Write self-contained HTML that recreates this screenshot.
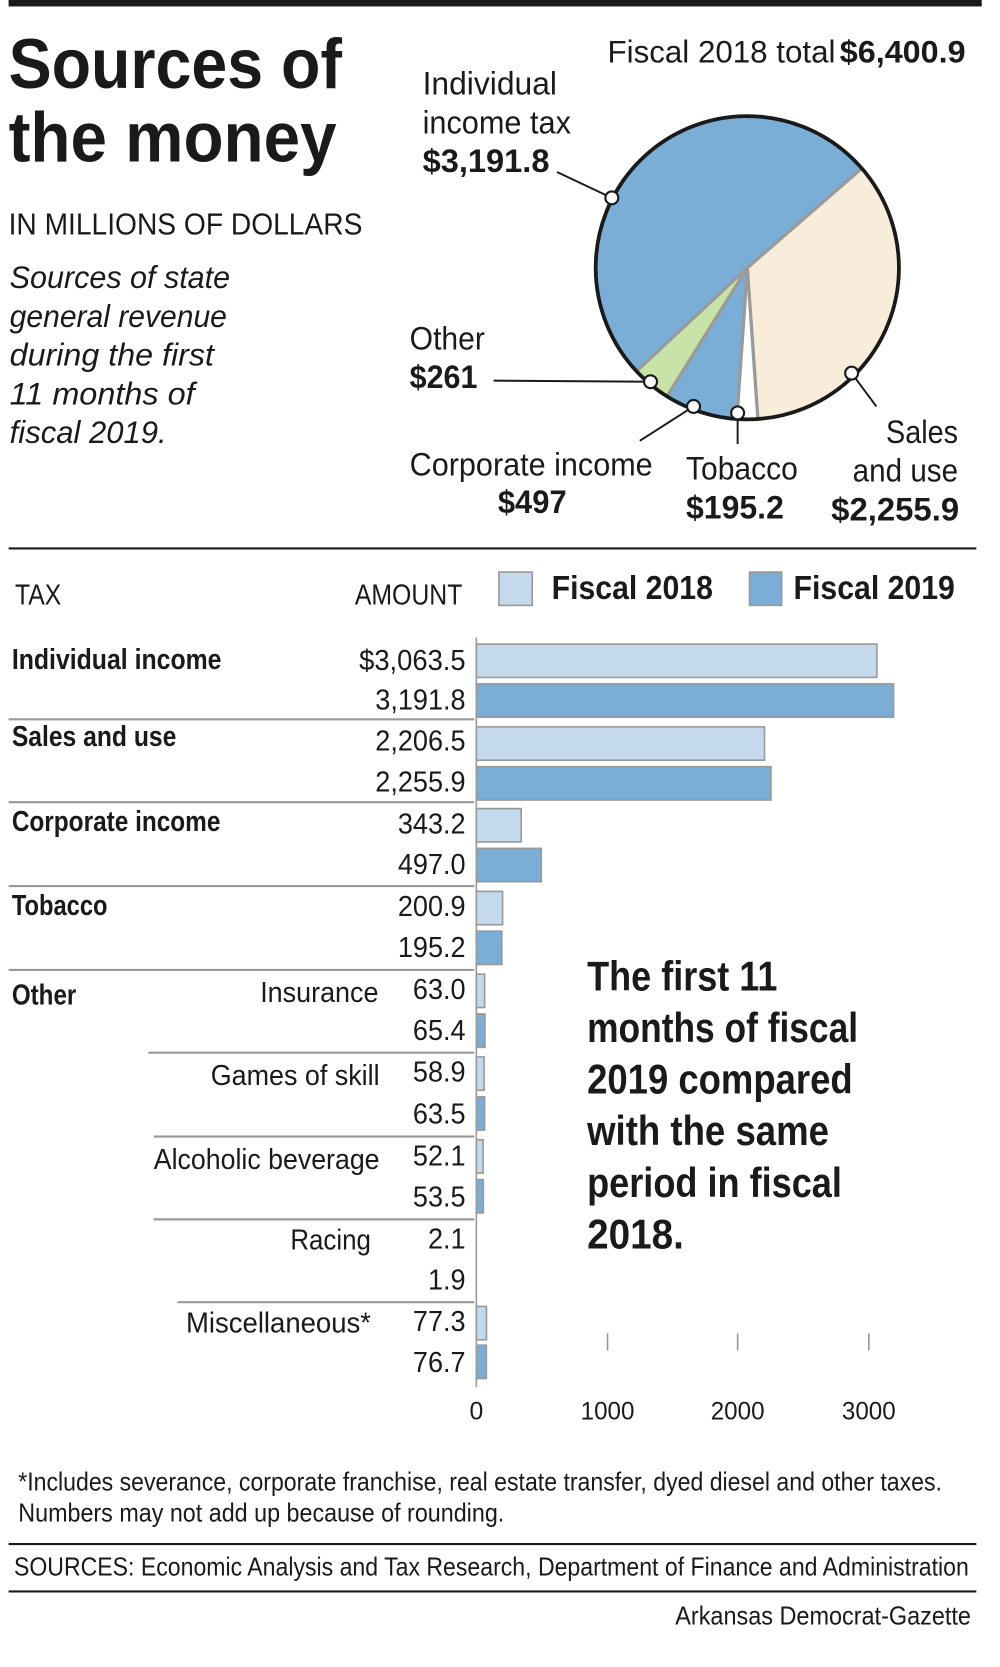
<!DOCTYPE html>
<html><head><meta charset="utf-8"><style>
html,body{margin:0;padding:0;background:#fff}
svg{display:block}
text{font-family:"Liberation Sans",sans-serif;fill:#1a1a1a}
.b{font-weight:bold}
</style></head><body>
<svg width="1000" height="1667" viewBox="0 0 930 1550.3" preserveAspectRatio="none" xmlns="http://www.w3.org/2000/svg">
<rect x="8" y="0" width="905" height="6" fill="#1a1a1a"/>
<text x="8" y="82" class="b" font-size="66" textLength="310" lengthAdjust="spacingAndGlyphs">Sources of</text>
<text x="8" y="150" class="b" font-size="66" textLength="305" lengthAdjust="spacingAndGlyphs">the money</text>
<text x="8" y="218" font-size="28" textLength="329" lengthAdjust="spacingAndGlyphs">IN MILLIONS OF DOLLARS</text>
<g font-size="29" font-style="italic">
<text x="9" y="268" textLength="205" lengthAdjust="spacingAndGlyphs">Sources of state</text>
<text x="9" y="304" textLength="202" lengthAdjust="spacingAndGlyphs">general revenue</text>
<text x="9" y="340" textLength="190" lengthAdjust="spacingAndGlyphs">during the first</text>
<text x="9" y="376" textLength="172" lengthAdjust="spacingAndGlyphs">11 months of</text>
<text x="9" y="412" textLength="146" lengthAdjust="spacingAndGlyphs">fiscal 2019.</text>
</g>
<text x="565" y="58" font-size="29" textLength="212" lengthAdjust="spacingAndGlyphs">Fiscal 2018 total</text>
<text x="781" y="58" font-size="29" class="b" textLength="117" lengthAdjust="spacingAndGlyphs">$6,400.9</text>
<!-- pie -->
<g stroke="#9a9a9a" stroke-width="3">
<path d="M695 249 L801.4 156.5 A141 141 0 0 1 704.8 389.7 Z" fill="#f8ecda"/>
<path d="M695 249 L704.8 389.7 A141 141 0 0 1 685.2 389.7 Z" fill="#ffffff"/>
<path d="M695 249 L685.2 389.7 A141 141 0 0 1 620.3 368.6 Z" fill="#7aaed6"/>
<path d="M695 249 L620.3 368.6 A141 141 0 0 1 591.9 345.2 Z" fill="#c8e3a8"/>
<path d="M695 249 L591.9 345.2 A141 141 0 1 1 801.4 156.5 Z" fill="#7aaed6"/>
</g>
<circle cx="695" cy="249" r="141" fill="none" stroke="#1a1a1a" stroke-width="3.5"/>
<g stroke="#1a1a1a" stroke-width="1.8" fill="none">
<line x1="518" y1="160" x2="569" y2="184"/>
<line x1="459" y1="354" x2="605" y2="355"/>
<line x1="595" y1="410" x2="645" y2="378"/>
<line x1="686" y1="384" x2="686" y2="413"/>
<line x1="792" y1="347" x2="815" y2="378"/>
</g>
<g fill="#fff" stroke="#1a1a1a" stroke-width="2">
<circle cx="569" cy="184" r="6"/><circle cx="605" cy="355" r="6"/><circle cx="645" cy="378" r="6"/><circle cx="686" cy="384" r="6"/><circle cx="792" cy="347" r="6"/>
</g>
<g font-size="30">
<text x="393" y="88" textLength="125" lengthAdjust="spacingAndGlyphs">Individual</text>
<text x="393" y="124" textLength="138" lengthAdjust="spacingAndGlyphs">income tax</text>
<text x="393" y="160" class="b" textLength="118" lengthAdjust="spacingAndGlyphs">$3,191.8</text>
<text x="381" y="325" textLength="70" lengthAdjust="spacingAndGlyphs">Other</text>
<text x="381" y="361" class="b" textLength="63" lengthAdjust="spacingAndGlyphs">$261</text>
<text x="381" y="442" textLength="226" lengthAdjust="spacingAndGlyphs">Corporate income</text>
<text x="463" y="477" class="b" textLength="64" lengthAdjust="spacingAndGlyphs">$497</text>
<text x="638" y="446" textLength="104" lengthAdjust="spacingAndGlyphs">Tobacco</text>
<text x="638" y="482" class="b" textLength="91" lengthAdjust="spacingAndGlyphs">$195.2</text>
<text x="824" y="412" textLength="67" lengthAdjust="spacingAndGlyphs">Sales</text>
<text x="793" y="448" textLength="98" lengthAdjust="spacingAndGlyphs">and use</text>
<text x="773" y="484" class="b" textLength="119" lengthAdjust="spacingAndGlyphs">$2,255.9</text>
</g>
<line x1="8" y1="510" x2="908" y2="510" stroke="#1a1a1a" stroke-width="2"/>
<!-- bar header -->
<text x="14" y="562" font-size="27" textLength="43" lengthAdjust="spacingAndGlyphs">TAX</text>
<text x="330" y="562" font-size="27" textLength="100" lengthAdjust="spacingAndGlyphs">AMOUNT</text>
<rect x="464" y="532" width="31" height="31" fill="#c5d9ec" stroke="#999" stroke-width="1.5"/>
<text x="513" y="557" font-size="31" class="b" textLength="150" lengthAdjust="spacingAndGlyphs">Fiscal 2018</text>
<rect x="697" y="532" width="30" height="31" fill="#7aaed6" stroke="#999" stroke-width="1.5"/>
<text x="738" y="557" font-size="31" class="b" textLength="150" lengthAdjust="spacingAndGlyphs">Fiscal 2019</text>
<!-- separators -->
<g stroke="#999" stroke-width="2">
<line x1="8" y1="669" x2="441" y2="669"/>
<line x1="8" y1="746" x2="441" y2="746"/>
<line x1="8" y1="824" x2="441" y2="824"/>
<line x1="8" y1="902" x2="441" y2="902"/>
<line x1="138" y1="979" x2="441" y2="979"/>
<line x1="143" y1="1057" x2="441" y2="1057"/>
<line x1="143" y1="1134" x2="441" y2="1134"/>
<line x1="165" y1="1211" x2="441" y2="1211"/>
<line x1="443" y1="593" x2="443" y2="1290" stroke-width="1.5"/>
<line x1="565" y1="1240" x2="565" y2="1256" stroke-width="1.5"/>
<line x1="686" y1="1240" x2="686" y2="1256" stroke-width="1.5"/>
<line x1="808" y1="1240" x2="808" y2="1256" stroke-width="1.5"/>
</g>
<!-- bars -->
<g stroke="#999" stroke-width="1.5">
<rect x="443" y="599" width="372.5" height="31" fill="#c5d9ec"/>
<rect x="443" y="636" width="388" height="31" fill="#7aaed6"/>
<rect x="443" y="676" width="268" height="31" fill="#c5d9ec"/>
<rect x="443" y="713" width="274" height="31" fill="#7aaed6"/>
<rect x="443" y="752" width="41.7" height="31" fill="#c5d9ec"/>
<rect x="443" y="789" width="60.4" height="31" fill="#7aaed6"/>
<rect x="443" y="829" width="24.4" height="31" fill="#c5d9ec"/>
<rect x="443" y="866" width="23.7" height="31" fill="#7aaed6"/>
<rect x="443" y="906" width="7.7" height="31" fill="#c5d9ec"/>
<rect x="443" y="943" width="8" height="31" fill="#7aaed6"/>
<rect x="443" y="983" width="7.2" height="31" fill="#c5d9ec"/>
<rect x="443" y="1020" width="7.7" height="31" fill="#7aaed6"/>
<rect x="443" y="1060" width="6.3" height="31" fill="#c5d9ec"/>
<rect x="443" y="1097" width="6.5" height="31" fill="#7aaed6"/>
<rect x="443" y="1215" width="9.4" height="31" fill="#c5d9ec"/>
<rect x="443" y="1251" width="9.3" height="31" fill="#7aaed6"/>
</g>
<!-- group labels -->
<g font-size="27" class="b">
<text x="11" y="622" class="b" textLength="195" lengthAdjust="spacingAndGlyphs">Individual income</text>
<text x="11" y="694" class="b" textLength="153" lengthAdjust="spacingAndGlyphs">Sales and use</text>
<text x="11" y="773" class="b" textLength="194" lengthAdjust="spacingAndGlyphs">Corporate income</text>
<text x="11" y="851" class="b" textLength="89" lengthAdjust="spacingAndGlyphs">Tobacco</text>
<text x="11" y="934" class="b" textLength="60" lengthAdjust="spacingAndGlyphs">Other</text>
</g>
<g font-size="27" text-anchor="end">
<text x="352" y="932" textLength="110" lengthAdjust="spacingAndGlyphs">Insurance</text>
<text x="353" y="1009" textLength="157" lengthAdjust="spacingAndGlyphs">Games of skill</text>
<text x="353" y="1087" textLength="210" lengthAdjust="spacingAndGlyphs">Alcoholic beverage</text>
<text x="345" y="1162" textLength="75" lengthAdjust="spacingAndGlyphs">Racing</text>
<text x="345" y="1239" textLength="172" lengthAdjust="spacingAndGlyphs">Miscellaneous*</text>
</g>
<g font-size="27" text-anchor="end">
<text x="433" y="623" textLength="99" lengthAdjust="spacingAndGlyphs">$3,063.5</text>
<text x="433" y="660" textLength="84" lengthAdjust="spacingAndGlyphs">3,191.8</text>
<text x="433" y="698" textLength="84" lengthAdjust="spacingAndGlyphs">2,206.5</text>
<text x="433" y="736" textLength="84" lengthAdjust="spacingAndGlyphs">2,255.9</text>
<text x="433" y="775" textLength="63" lengthAdjust="spacingAndGlyphs">343.2</text>
<text x="433" y="813" textLength="63" lengthAdjust="spacingAndGlyphs">497.0</text>
<text x="433" y="852" textLength="63" lengthAdjust="spacingAndGlyphs">200.9</text>
<text x="433" y="890" textLength="63" lengthAdjust="spacingAndGlyphs">195.2</text>
<text x="433" y="929" textLength="49" lengthAdjust="spacingAndGlyphs">63.0</text>
<text x="433" y="967" textLength="49" lengthAdjust="spacingAndGlyphs">65.4</text>
<text x="433" y="1006" textLength="49" lengthAdjust="spacingAndGlyphs">58.9</text>
<text x="433" y="1045" textLength="49" lengthAdjust="spacingAndGlyphs">63.5</text>
<text x="433" y="1084" textLength="49" lengthAdjust="spacingAndGlyphs">52.1</text>
<text x="433" y="1122" textLength="49" lengthAdjust="spacingAndGlyphs">53.5</text>
<text x="433" y="1161" textLength="35" lengthAdjust="spacingAndGlyphs">2.1</text>
<text x="433" y="1199" textLength="35" lengthAdjust="spacingAndGlyphs">1.9</text>
<text x="433" y="1238" textLength="49" lengthAdjust="spacingAndGlyphs">77.3</text>
<text x="433" y="1276" textLength="49" lengthAdjust="spacingAndGlyphs">76.7</text>
</g>
<g font-size="23" text-anchor="middle">
<text x="443" y="1320">0</text>
<text x="565" y="1320" textLength="50" lengthAdjust="spacingAndGlyphs">1000</text>
<text x="686" y="1320" textLength="50" lengthAdjust="spacingAndGlyphs">2000</text>
<text x="808" y="1320" textLength="50" lengthAdjust="spacingAndGlyphs">3000</text>
</g>
<g font-size="39" class="b">
<text x="546" y="921" class="b" textLength="177" lengthAdjust="spacingAndGlyphs">The first 11</text>
<text x="546" y="969" class="b" textLength="252" lengthAdjust="spacingAndGlyphs">months of fiscal</text>
<text x="546" y="1017" class="b" textLength="247" lengthAdjust="spacingAndGlyphs">2019 compared</text>
<text x="546" y="1065" class="b" textLength="225" lengthAdjust="spacingAndGlyphs">with the same</text>
<text x="546" y="1113" class="b" textLength="237" lengthAdjust="spacingAndGlyphs">period in fiscal</text>
<text x="546" y="1161" class="b" textLength="90" lengthAdjust="spacingAndGlyphs">2018.</text>
</g>
<g font-size="24">
<text x="17" y="1386" textLength="859" lengthAdjust="spacingAndGlyphs">*Includes severance, corporate franchise, real estate transfer, dyed diesel and other taxes.</text>
<text x="17" y="1415" textLength="452" lengthAdjust="spacingAndGlyphs">Numbers may not add up because of rounding.</text>
</g>
<line x1="8" y1="1436" x2="908" y2="1436" stroke="#1a1a1a" stroke-width="2"/>
<text x="13" y="1465" font-size="24" textLength="888" lengthAdjust="spacingAndGlyphs">SOURCES: Economic Analysis and Tax Research, Department of Finance and Administration</text>
<line x1="8" y1="1480" x2="908" y2="1480" stroke="#1a1a1a" stroke-width="2"/>
<text x="628" y="1511" font-size="24" textLength="275" lengthAdjust="spacingAndGlyphs">Arkansas Democrat-Gazette</text>
</svg>
</body></html>
